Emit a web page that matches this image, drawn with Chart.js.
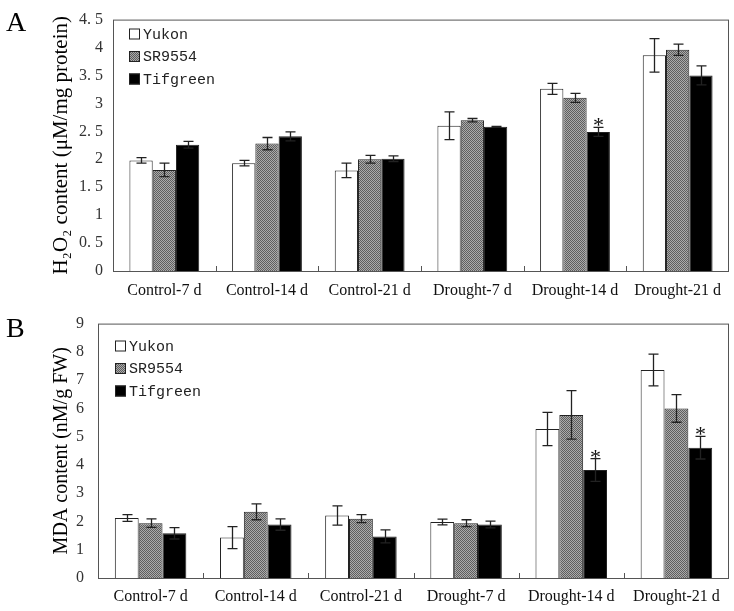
<!DOCTYPE html>
<html>
<head>
<meta charset="utf-8">
<script src="https://cdn.jsdelivr.net/npm/chart.js@4.4.0/dist/chart.umd.min.js"></script>
<style>
  html, body { margin: 0; padding: 0; background: #fff; }
  #wrapA { position: absolute; left: 0; top: 0; width: 734px; height: 300px; }
  #wrapB { position: absolute; left: 0; top: 300px; width: 734px; height: 311px; }
</style>
</head>
<body>
<div id="wrapA"><canvas id="chartA"></canvas></div>
<div id="wrapB"><canvas id="chartB"></canvas></div>
<script>
const categories = ['Control-7 d', 'Control-14 d', 'Control-21 d', 'Drought-7 d', 'Drought-14 d', 'Drought-21 d'];
const seriesNames = ['Yukon', 'SR9554', 'Tifgreen'];

// panel A: H2O2 content
const h2o2Yukon = [1.98, 1.93, 1.80, 2.60, 3.26, 3.86];
const h2o2YukonErr = [0.05, 0.05, 0.13, 0.25, 0.10, 0.30];
const h2o2SR = [1.81, 2.28, 2.00, 2.70, 3.10, 3.96];
const h2o2SRErr = [0.12, 0.11, 0.07, 0.03, 0.08, 0.10];
const h2o2Tif = [2.26, 2.41, 2.01, 2.58, 2.49, 3.50];
const h2o2TifErr = [0.06, 0.08, 0.05, 0.01, 0.08, 0.17];
const h2o2TifSig = [0, 0, 0, 0, 1, 0];

// panel B: MDA content
const mdaYukon = [2.12, 1.43, 2.21, 1.98, 5.27, 7.36];
const mdaYukonErr = [0.12, 0.39, 0.34, 0.10, 0.59, 0.56];
const mdaSR = [1.94, 2.34, 2.10, 1.94, 5.77, 6.00];
const mdaSRErr = [0.15, 0.28, 0.14, 0.12, 0.86, 0.49];
const mdaTif = [1.58, 1.89, 1.47, 1.89, 3.82, 4.61];
const mdaTifErr = [0.20, 0.20, 0.23, 0.12, 0.40, 0.40];
const mdaTifSig = [0, 0, 0, 0, 1, 1];

function hatchPattern() {
  const c = document.createElement('canvas');
  c.width = 4; c.height = 4;
  const g = c.getContext('2d');
  g.fillStyle = '#ababab';
  g.fillRect(0, 0, 4, 4);
  g.fillStyle = '#5e5e5e';
  for (let i = 0; i < 4; i++) {
    g.fillRect(i, i, 1, 1);
    g.fillRect((i + 2) % 4, i, 1, 1);
  }
  return g.createPattern(c, 'repeat');
}
const grayFill = hatchPattern();
const fills = ['#ffffff', grayFill, '#000000'];

// error bars + significance stars
const errorBars = {
  id: 'errorBars',
  afterDatasetsDraw(chart) {
    const ctx = chart.ctx, ys = chart.scales.y;
    ctx.save();
    ctx.strokeStyle = '#222';
    ctx.lineWidth = 1.3;
    chart.data.datasets.forEach((ds, i) => {
      chart.getDatasetMeta(i).data.forEach((bar, j) => {
        const v = ds.data[j], e = ds.errors[j];
        const yt = ys.getPixelForValue(v + e), yb = ys.getPixelForValue(v - e);
        const x = Math.round(bar.x) + 0.5;
        ctx.beginPath();
        ctx.moveTo(x, yt); ctx.lineTo(x, yb);
        ctx.moveTo(x - 5, yt); ctx.lineTo(x + 5, yt);
        ctx.moveTo(x - 5, yb); ctx.lineTo(x + 5, yb);
        ctx.stroke();
        if (ds.sig && ds.sig[j]) {
          ctx.fillStyle = '#111';
          ctx.font = '22px "Liberation Serif"';
          ctx.textAlign = 'center';
          ctx.textBaseline = 'alphabetic';
          ctx.fillText('*', x, yt + 5);
        }
      });
    });
    ctx.restore();
  }
};

// frame, group ticks, legend, panel letter
const decor = {
  id: 'decor',
  afterDraw(chart, args, opts) {
    const ctx = chart.ctx, a = chart.chartArea, xs = chart.scales.x;
    ctx.save();
    ctx.strokeStyle = '#555';
    ctx.lineWidth = 1;
    ctx.strokeRect(a.left + 0.5, a.top + 0.5, a.right - a.left - 1, a.bottom - a.top);
    ctx.beginPath();
    for (let i = 1; i < categories.length; i++) {
      const x = Math.round((xs.getPixelForValue(i - 1) + xs.getPixelForValue(i)) / 2) + 0.5;
      ctx.moveTo(x, a.bottom);
      ctx.lineTo(x, a.bottom - 5);
    }
    ctx.stroke();

    ctx.font = '15px "Liberation Mono"';
    ctx.textBaseline = 'middle';
    ctx.textAlign = 'left';
    seriesNames.forEach((name, i) => {
      const y = opts.legendY + i * 22.5;
      ctx.fillStyle = fills[i];
      ctx.fillRect(opts.legendX, y - 5.5, 11, 11);
      ctx.strokeStyle = '#222';
      ctx.strokeRect(opts.legendX + 0.5, y - 5, 10, 10);
      ctx.fillStyle = '#222';
      ctx.fillText(name, opts.legendX + 14, y + 1);
    });

    ctx.font = '28px "Liberation Serif"';
    ctx.fillStyle = '#000';
    ctx.textBaseline = 'alphabetic';
    ctx.fillText(opts.letter, 6, opts.letterY);
    ctx.restore();
  }
};

function makeChart(id, sets, yMax, yStep, yTitle, axisW, xH, padTop, opts) {
  new Chart(document.getElementById(id), {
    type: 'bar',
    data: {
      labels: categories,
      datasets: sets.map((s, i) => ({
        label: seriesNames[i],
        data: s.data,
        errors: s.errors,
        sig: s.sig,
        backgroundColor: fills[i],
        borderColor: '#222',
        borderWidth: 1,
        categoryPercentage: 0.68,
        barPercentage: 1.0
      }))
    },
    options: {
      responsive: true,
      maintainAspectRatio: false,
      animation: false,
      layout: { padding: { left: 45, top: padTop, right: 5, bottom: 0 } },
      plugins: {
        legend: { display: false },
        tooltip: { enabled: false },
        decor: opts
      },
      scales: {
        x: {
          grid: { display: false, drawTicks: false },
          border: { display: false },
          ticks: { color: '#111', padding: opts.xPad, font: { family: 'Liberation Serif', size: 16 } },
          afterFit: s => { s.height = xH; }
        },
        y: {
          min: 0,
          max: yMax,
          grid: { display: false, drawTicks: false },
          border: { display: false },
          ticks: {
            stepSize: yStep,
            padding: opts.yPad,
            color: '#333',
            font: { family: 'Liberation Serif', size: 16 },
            callback: v => (v % 1 ? v.toFixed(1).replace('.', '. ') : String(v))
          },
          title: {
            display: true,
            text: yTitle,
            color: '#000',
            font: { family: 'Liberation Serif', size: opts.titleSize },
            padding: { top: opts.titlePad, bottom: 0 }
          },
          afterFit: s => { s.width = axisW; }
        }
      }
    },
    plugins: [errorBars, decor]
  });
}

makeChart('chartA', [
  { data: h2o2Yukon, errors: h2o2YukonErr },
  { data: h2o2SR, errors: h2o2SRErr },
  { data: h2o2Tif, errors: h2o2TifErr, sig: h2o2TifSig }
], 4.5, 0.5, 'H₂O₂ content (μM/mg protein)', 68, 29, 11,
  { letter: 'A', letterY: 31, legendX: 129, legendY: 34, xPad: 10, yPad: 10, titleSize: 21, titlePad: 4 });

makeChart('chartB', [
  { data: mdaYukon, errors: mdaYukonErr },
  { data: mdaSR, errors: mdaSRErr },
  { data: mdaTif, errors: mdaTifErr, sig: mdaTifSig }
], 9, 1, 'MDA content (nM/g FW)', 53, 33, 21,
  { letter: 'B', letterY: 37, legendX: 115, legendY: 46, xPad: 9, yPad: 14, titleSize: 20, titlePad: 5 });
</script>
</body>
</html>
